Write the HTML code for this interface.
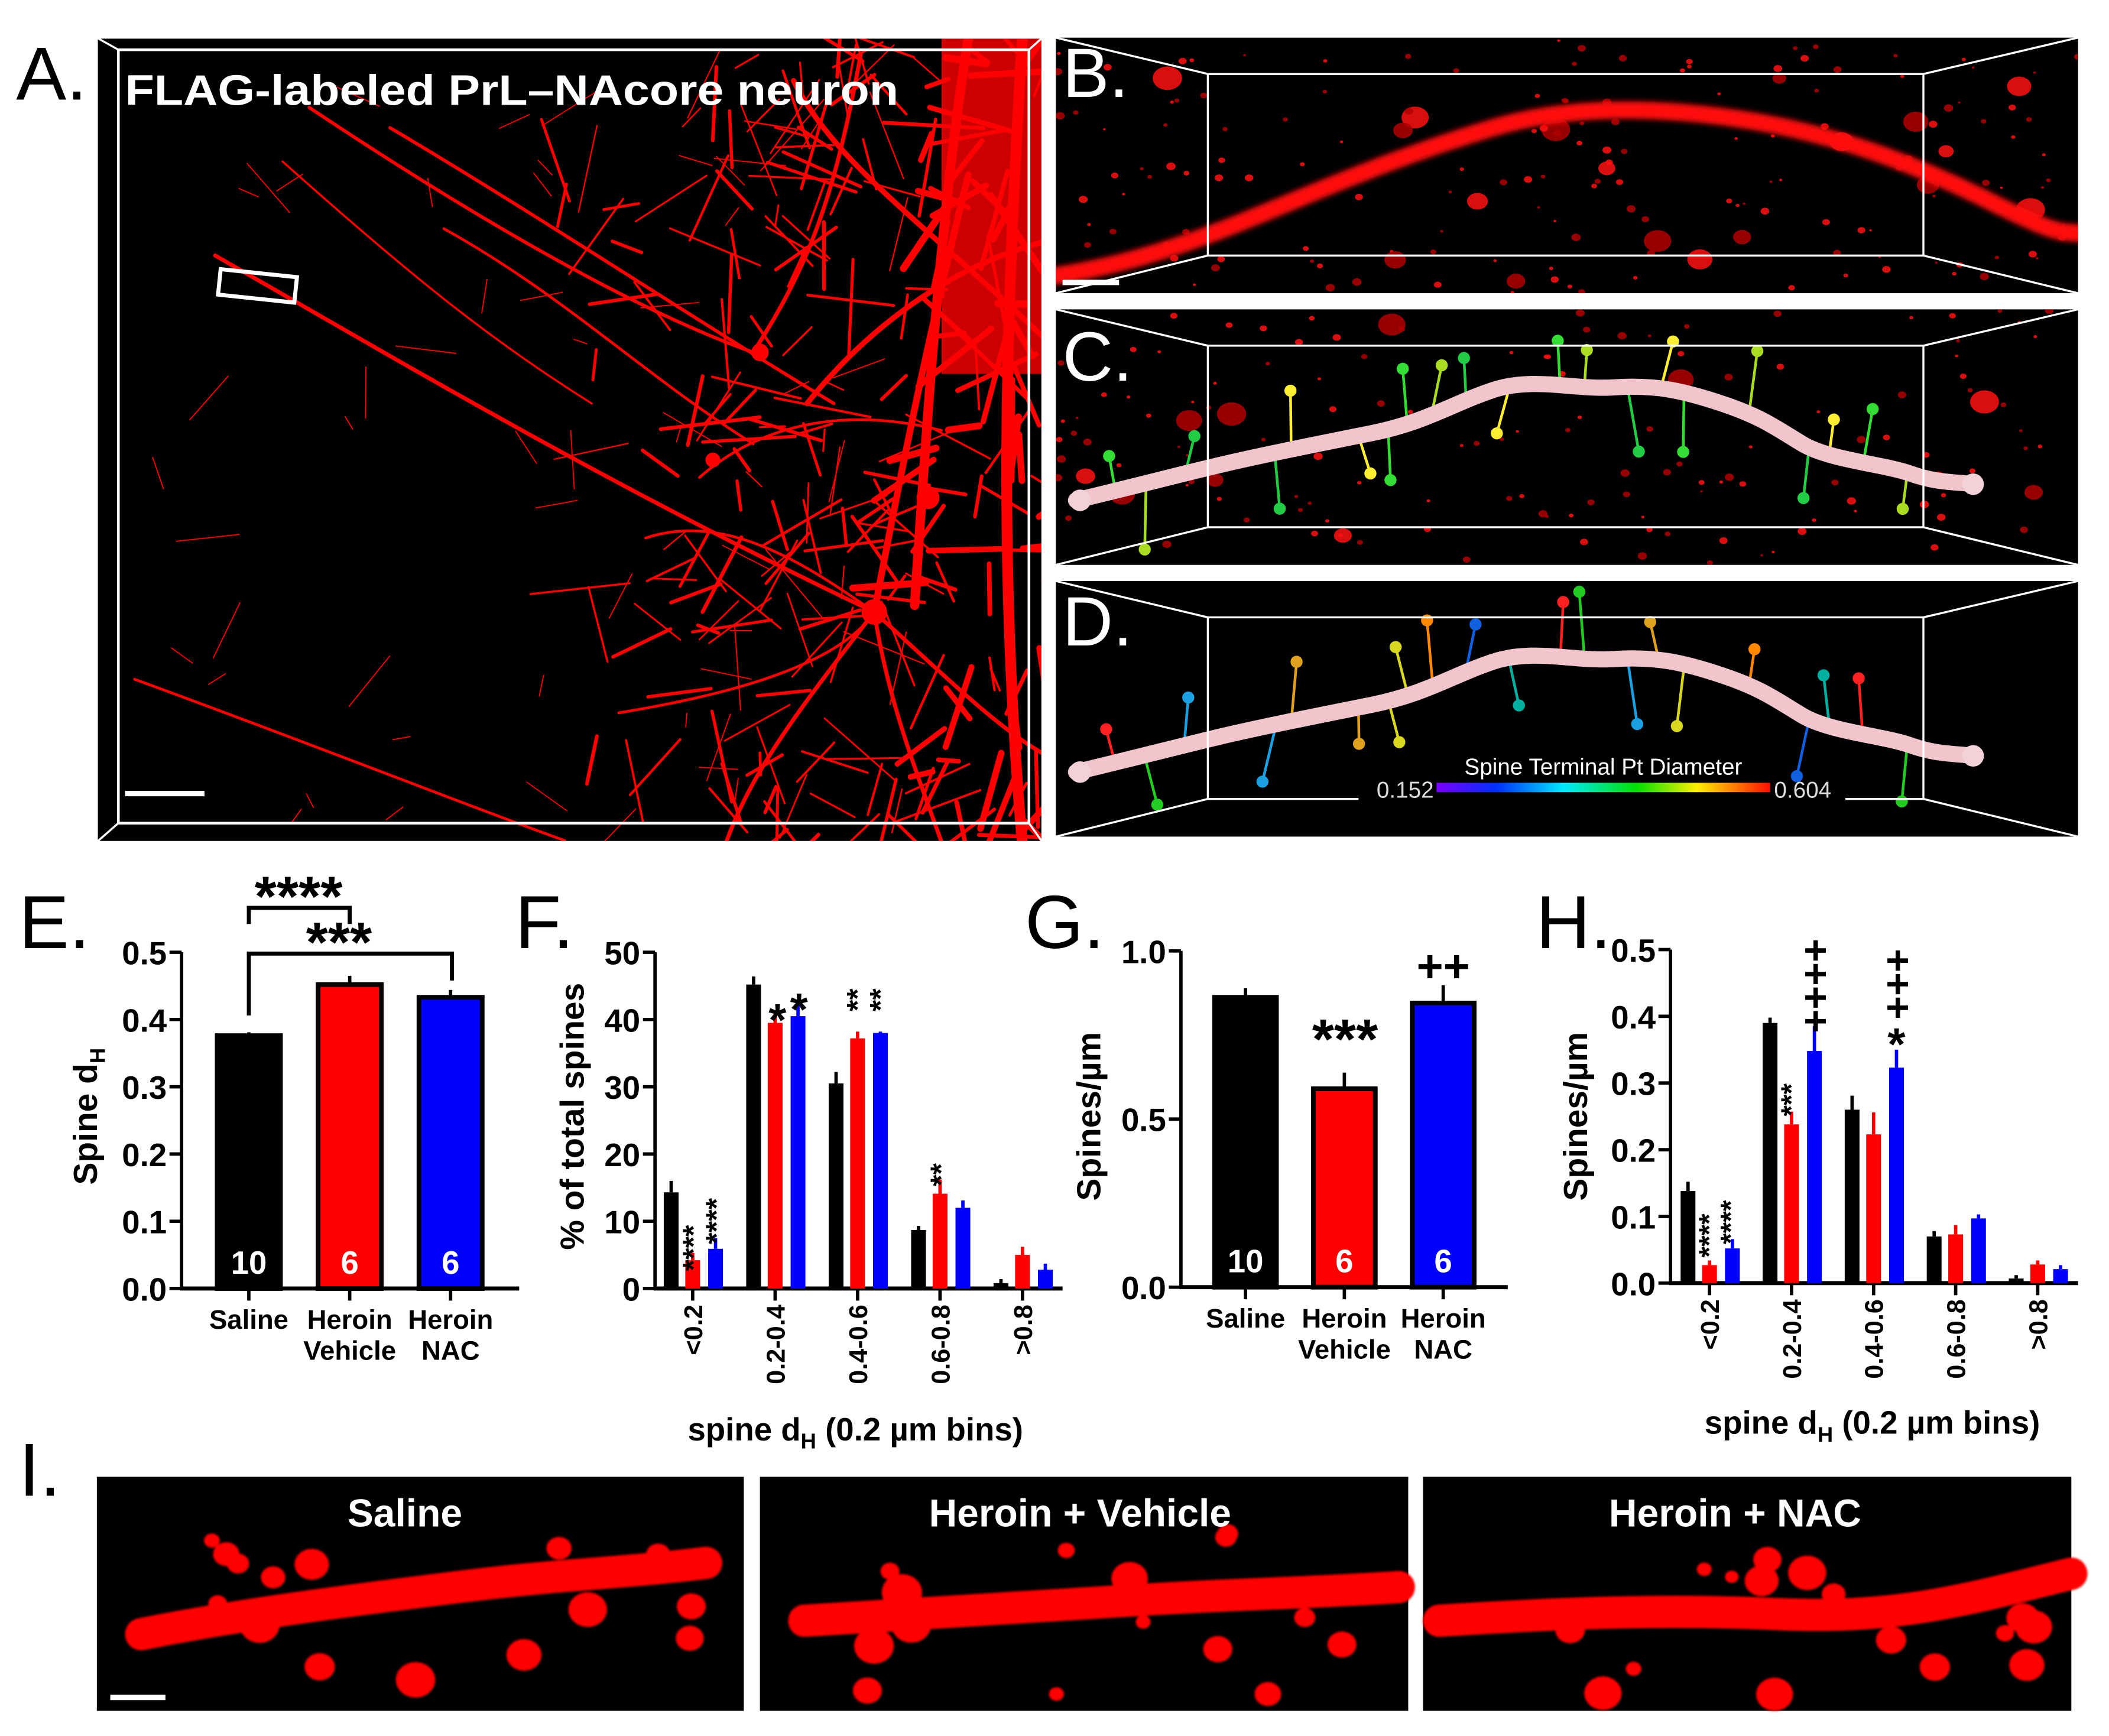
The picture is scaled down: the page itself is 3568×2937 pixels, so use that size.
<!DOCTYPE html>
<html><head><meta charset="utf-8">
<style>
html,body{margin:0;padding:0;background:#fff;}
svg{display:block;}
text{font-family:"Liberation Sans",Arial,sans-serif;}
.b{font-weight:bold;}
</style></head>
<body>
<svg id="fig" width="3568" height="2937" viewBox="0 0 1568 1290.7" xmlns="http://www.w3.org/2000/svg">
<defs>
 <filter id="blur2" x="-20%" y="-20%" width="140%" height="140%"><feGaussianBlur stdDeviation="2"/></filter>
 <filter id="blur1"><feGaussianBlur stdDeviation="0.8"/></filter>
 <linearGradient id="cbar" x1="0" x2="1" y1="0" y2="0">
  <stop offset="0" stop-color="#7a00ff"/><stop offset="0.18" stop-color="#0030ff"/><stop offset="0.38" stop-color="#00e8ff"/>
  <stop offset="0.6" stop-color="#00e000"/><stop offset="0.78" stop-color="#ffee00"/><stop offset="1" stop-color="#ff1000"/>
 </linearGradient>
 <clipPath id="clipA"><rect x="72" y="28" width="703" height="598"/></clipPath>
 <clipPath id="clipB"><rect x="785" y="28" width="760" height="190"/></clipPath>
 <clipPath id="clipC"><rect x="785" y="230" width="760" height="190"/></clipPath>
 <clipPath id="clipD"><rect x="785" y="432" width="760" height="190"/></clipPath>
</defs>

<!-- Panel A -->
<g>
 <rect x="72" y="28" width="703" height="598" fill="#000"/>
 <g id="neuronA" clip-path="url(#clipA)" stroke="#ff0000" fill="none" stroke-linecap="round"></g>
 <rect x="88" y="37" width="677" height="575" fill="none" stroke="#fff" stroke-width="2"/>
 <line x1="72" y1="28" x2="88" y2="37" stroke="#fff" stroke-width="1.5"/>
 <line x1="775" y1="28" x2="765" y2="37" stroke="#fff" stroke-width="1.5"/>
 <line x1="72" y1="626" x2="88" y2="612" stroke="#fff" stroke-width="1.5"/>
 <line x1="775" y1="626" x2="765" y2="612" stroke="#fff" stroke-width="1.5"/>
 <rect x="72" y="28" width="703" height="598" fill="none" stroke="#fff" stroke-width="1.5"/>
 <rect x="163" y="203" width="57" height="19" fill="none" stroke="#fff" stroke-width="3" transform="rotate(6 191 212)"/>
 <line x1="93" y1="590" x2="152" y2="590" stroke="#fff" stroke-width="4"/>
 <text x="93" y="78" class="b" font-size="32" fill="#fff" textLength="575" lengthAdjust="spacingAndGlyphs">FLAG-labeled PrL–NAcore neuron</text>
</g>
<text x="12" y="74" font-size="56" fill="#000">A.</text>

<!-- Panel B -->
<g>
 <rect x="785" y="28" width="760" height="190" fill="#000"/>
 <g clip-path="url(#clipB)" id="dotsB"></g>
 <path clip-path="url(#clipB)" filter="url(#blur2)" d="M785,205 C850,195 900,175 960,150 S1060,110 1110,95 S1220,78 1290,88 S1420,120 1480,150 S1530,170 1560,175" stroke="#ff1010" stroke-width="13" fill="none" stroke-linecap="round"/>
 <g stroke="#fff" stroke-width="1.5" fill="none">
  <rect x="898" y="55" width="532" height="135"/>
  <line x1="785" y1="28" x2="898" y2="55"/><line x1="1545" y1="28" x2="1430" y2="55"/>
  <line x1="785" y1="218" x2="898" y2="190"/><line x1="1545" y1="218" x2="1430" y2="190"/>
 </g>
 <line x1="790" y1="210" x2="832" y2="210" stroke="#fff" stroke-width="4"/>
</g>
<text x="790" y="72" font-size="52" fill="#fff">B.</text>

<!-- Panel C -->
<g>
 <rect x="785" y="230" width="760" height="190" fill="#000"/>
 <g clip-path="url(#clipC)" id="dotsC"></g>
 <g clip-path="url(#clipC)" id="spinesC"></g>
 <path id="dendC" d="M800,372 C850,360 880,352 910,345 S980,330 1020,322 S1080,300 1110,290 S1170,290 1200,288 S1250,290 1280,300 S1320,318 1340,330 S1400,345 1420,352 S1450,358 1468,360" stroke="#f2c4cc" stroke-width="12" fill="none" stroke-linecap="round"/>
 <circle cx="803" cy="372" r="8" fill="#f2d2d8"/><circle cx="1467" cy="360" r="8" fill="#f2d2d8"/>
 <g stroke="#fff" stroke-width="1.5" fill="none">
  <rect x="898" y="257" width="532" height="135"/>
  <line x1="785" y1="230" x2="898" y2="257"/><line x1="1545" y1="230" x2="1430" y2="257"/>
  <line x1="785" y1="420" x2="898" y2="392"/><line x1="1545" y1="420" x2="1430" y2="392"/>
 </g>
</g>
<text x="790" y="283" font-size="52" fill="#fff">C.</text>

<!-- Panel D -->
<g>
 <rect x="785" y="432" width="760" height="190" fill="#000"/>
 <g clip-path="url(#clipD)" id="spinesD"></g>
 <path d="M800,574 C850,562 880,554 910,547 S980,532 1020,524 S1080,502 1110,492 S1170,492 1200,490 S1250,492 1280,502 S1320,520 1340,532 S1400,547 1420,554 S1450,560 1468,562" stroke="#f2c4cc" stroke-width="12" fill="none" stroke-linecap="round"/>
 <circle cx="803" cy="574" r="8" fill="#f2d2d8"/><circle cx="1467" cy="562" r="8" fill="#f2d2d8"/>
 <g stroke="#fff" stroke-width="1.5" fill="none">
  <path d="M1010,594 H898 V459 H1430 V594 H1372"/>
  <line x1="785" y1="432" x2="898" y2="459"/><line x1="1545" y1="432" x2="1430" y2="459"/>
  <line x1="785" y1="622" x2="898" y2="594"/><line x1="1545" y1="622" x2="1430" y2="594"/>
 </g>
 <rect x="1068" y="582" width="248" height="7" fill="url(#cbar)"/>
 <text x="1192" y="576" font-size="17" fill="#fff" text-anchor="middle">Spine Terminal Pt Diameter</text>
 <text x="1066" y="593" font-size="17" fill="#ddd" text-anchor="end">0.152</text>
 <text x="1319" y="593" font-size="17" fill="#ddd">0.604</text>
</g>
<text x="790" y="480" font-size="52" fill="#fff">D.</text>

<!-- Chart panel labels -->
<text x="14" y="705" font-size="56">E.</text>
<text x="383" y="705" font-size="56">F.</text>
<text x="762" y="705" font-size="56">G.</text>
<text x="1142" y="705" font-size="56">H.</text>
<text x="14" y="1112" font-size="56">I.</text>

<g id="chartE"></g>
<g id="chartF"></g>
<g id="chartG"></g>
<g id="chartH"></g>

<!-- Panel I -->
<g>
 <rect x="72" y="1098" width="481" height="174" fill="#000"/>
 <rect x="565" y="1098" width="482" height="174" fill="#000"/>
 <rect x="1058" y="1098" width="482" height="174" fill="#000"/>
 <g id="dendI" filter="url(#blur1)"></g>
 <line x1="82" y1="1262" x2="123" y2="1262" stroke="#fff" stroke-width="4"/>
 <text x="301" y="1135" class="b" font-size="29" fill="#fff" text-anchor="middle">Saline</text>
 <text x="803" y="1135" class="b" font-size="29" fill="#fff" text-anchor="middle">Heroin + Vehicle</text>
 <text x="1290" y="1135" class="b" font-size="29" fill="#fff" text-anchor="middle">Heroin + NAC</text>
</g>

<script>
// ---------------- chart data ----------------
const groupsE = ["Saline", "Heroin|Vehicle", "Heroin|NAC"];
const valuesE = [0.376, 0.452, 0.433];
const errorsE = [0.005, 0.013, 0.011];
const nE = ["10", "6", "6"];
const ticksE = [0, 0.1, 0.2, 0.3, 0.4, 0.5];

const binsF = ["<0.2", "0.2-0.4", "0.4-0.6", "0.6-0.8", ">0.8"];
const salineF = [14.3, 45.2, 30.5, 8.7, 0.8];
const vehicleF = [4.2, 39.5, 37.2, 14.1, 5.0];
const nacF = [5.9, 40.5, 38.0, 12.0, 2.8];
const salineErrF = [1.5, 1.0, 1.5, 0.4, 0.4];
const vehicleErrF = [0.9, 1.4, 0.8, 1.9, 1.0];
const nacErrF = [1.4, 2.0, 0.0, 0.9, 0.7];
const ticksF = [0, 10, 20, 30, 40, 50];

const groupsG = ["Saline", "Heroin|Vehicle", "Heroin|NAC"];
const valuesG = [0.862, 0.590, 0.845];
const errorsG = [0.027, 0.048, 0.053];
const nG = ["10", "6", "6"];
const ticksG = [0, 0.5, 1.0];

const binsH = ["<0.2", "0.2-0.4", "0.4-0.6", "0.6-0.8", ">0.8"];
const salineH = [0.138, 0.390, 0.260, 0.070, 0.007];
const vehicleH = [0.027, 0.238, 0.223, 0.073, 0.028];
const nacH = [0.052, 0.348, 0.323, 0.097, 0.021];
const salineErrH = [0.012, 0.006, 0.019, 0.006, 0.003];
const vehicleErrH = [0.005, 0.017, 0.031, 0.012, 0.004];
const nacErrH = [0.012, 0.035, 0.025, 0.004, 0.004];
const ticksH = [0, 0.1, 0.2, 0.3, 0.4, 0.5];

const NS = "http://www.w3.org/2000/svg";
function mk(tag, attrs, parent) {
  const e = document.createElementNS(NS, tag);
  for (const k in attrs) e.setAttribute(k, attrs[k]);
  if (parent) parent.appendChild(e);
  return e;
}
const COLORS = ["#000000", "#ff0000", "#0000ff"];

function axisY(g, x, y0, y1, vmax, ticks, fmt, fs) {
  const sc = v => y0 - (v / vmax) * (y0 - y1);
  const ax = mk("line", {x1: x, y1: y0 + 1, x2: x, y2: y1, stroke: "#000", "stroke-width": 2.5}, g);
  
  
  ticks.forEach(t => {
    const tk = mk("line", {x1: x - 9, x2: x, y1: sc(t), y2: sc(t), stroke: "#000", "stroke-width": 2.5}, g);
    
    
    const tl = mk("text", {x: x - 11, y: sc(t) + 9, "font-size": 24, "text-anchor": "end", "class": "b"}, g);
    tl.textContent = fmt(t);
    
    
  });
  return sc;
}
function yTitle(g, x, y, txt, sub) {
  const t = mk("text", {x: x, y: y, "font-size": 25, "class": "b", "text-anchor": "middle", transform: "rotate(-90 " + x + " " + y + ")"}, g);
  t.textContent = txt;
  if (sub) { const s = mk("tspan", {"font-size": 16, dy: 6}, t); s.textContent = sub; }
  
  
}
function rotText(g, x, y, txt, fs, name) {
  const t = mk("text", {x: x, y: y, "font-size": fs, "class": "b", transform: "rotate(-90 " + x + " " + y + ")"}, g);
  t.textContent = txt;
  
  
  return t;
}
function txt(g, x, y, s, fs, anchor, fill, name) {
  const t = mk("text", {x: x, y: y, "font-size": fs, "class": "b", "text-anchor": anchor || "middle", fill: fill || "#000"}, g);
  t.textContent = s;
  
  
  return t;
}

// ---- three-bar charts (E, G) ----
function threeBar(g, o) {
  const sc = axisY(g, o.ax, o.y0, o.y1, o.vmax, o.ticks, o.fmt);
  const xa = mk("line", {x1: o.ax - 1, x2: o.axEnd, y1: o.y0, y2: o.y0, stroke: "#000", "stroke-width": 3}, g);
  
  
  o.values.forEach((v, i) => {
    const cx = o.x0 + i * o.step;
    const top = sc(v), w = o.bw;
    const eb = mk("line", {x1: cx, x2: cx, y1: top, y2: sc(v + o.errors[i]), stroke: "#000", "stroke-width": 2.5}, g);
    
    
    const r = mk("rect", {x: cx - w / 2, y: top, width: w, height: o.y0 - top, fill: COLORS[i], stroke: "#000", "stroke-width": 3.5}, g);
    
    
    txt(g, cx, o.y0 - 11, o.ns[i], 24, "middle", "#fff", 'n-label');
    const tk = mk("line", {x1: cx, x2: cx, y1: o.y0, y2: o.y0 + 9, stroke: "#000", "stroke-width": 2.5}, g);
    
    
    const parts = o.groups[i].split('|');
    parts.forEach((p, j) => txt(g, cx, o.y0 + 30 + j * 23, p, 20, "middle", "#000", 'x-tick-label'));
  });
  return sc;
}

const gE = document.getElementById("chartE");
const scE = threeBar(gE, {ax: 135, y0: 958, y1: 708, vmax: 0.5, ticks: ticksE, fmt: t => t.toFixed(1),
  axEnd: 386, x0: 185, step: 75, bw: 47, values: valuesE, errors: errorsE, groups: groupsE, ns: nE});
yTitle(gE, 72, 830, "Spine d", "H");
(function () {
  const b1 = mk("path", {d: "M185,687 V675 H260 V687", fill: "none", stroke: "#000", "stroke-width": 3}, gE);
  
  
  txt(gE, 222, 681, "****", 42, "middle", "#000", 'significance-stars');
  const b2 = mk("path", {d: "M185,755 V709 H336 V729", fill: "none", stroke: "#000", "stroke-width": 3}, gE);
  
  
  txt(gE, 252, 715, "***", 42, "middle", "#000", 'significance-stars');
})();

const gG = document.getElementById("chartG");
const scG = threeBar(gG, {ax: 878, y0: 957, y1: 707, vmax: 1.0, ticks: ticksG, fmt: t => t.toFixed(1),
  axEnd: 1121, x0: 926, step: 73.5, bw: 46, values: valuesG, errors: errorsG, groups: groupsG, ns: nG});
yTitle(gG, 818, 830, "Spines/µm");
txt(gG, 1000, 787, "***", 42, "middle", "#000", 'significance-stars');
txt(gG, 1073, 730, "++", 34, "middle", "#000", 'significance-plus');

// ---- grouped charts (F, H) ----
function grouped(g, o) {
  const sc = axisY(g, o.ax, o.y0, o.y1, o.vmax, o.ticks, o.fmt);
  const xa = mk("line", {x1: o.ax - 1, x2: o.axEnd, y1: o.y0, y2: o.y0, stroke: "#000", "stroke-width": 3}, g);
  
  
  const offs = [-16, 0, 17];
  const names = ["saline", "heroin-vehicle", "heroin-nac"];
  o.bins.forEach((b, i) => {
    const cx = o.x0 + i * o.step;
    o.series.forEach((s, k) => {
      const v = s[i], bx = cx + offs[k];
      const eb = mk("line", {x1: bx, x2: bx, y1: sc(v), y2: sc(v + o.errs[k][i]) - 1, stroke: COLORS[k], "stroke-width": 2.5}, g);
      
      
      const r = mk("rect", {x: bx - 5.5, y: sc(v), width: 11, height: o.y0 - sc(v), fill: COLORS[k]}, g);
      
      
    });
    const tk = mk("line", {x1: cx, x2: cx, y1: o.y0, y2: o.y0 + 9, stroke: "#000", "stroke-width": 2.5}, g);
    
    
    const t = mk("text", {x: cx + 7, y: o.y0 + 12, "font-size": 19, "class": "b", "text-anchor": "end", transform: "rotate(-90 " + (cx + 7) + " " + (o.y0 + 12) + ")"}, g);
    t.textContent = b;
    
    
  });
  const xt = mk("text", {x: o.titleX, y: o.titleY, "font-size": 24, "class": "b", "text-anchor": "middle"}, g);
  xt.textContent = "spine d";
  const sb = mk("tspan", {"font-size": 16, dy: 6}, xt); sb.textContent = "H";
  const rs = mk("tspan", {dy: -6}, xt); rs.textContent = " (0.2 µm bins)";
  
  
  return sc;
}

const gF = document.getElementById("chartF");
const scF = grouped(gF, {ax: 487, y0: 958, y1: 708, vmax: 50, ticks: ticksF, fmt: t => String(t),
  axEnd: 790, x0: 515, step: 61.3, bins: binsF, series: [salineF, vehicleF, nacF],
  errs: [salineErrF, vehicleErrF, nacErrF], titleX: 636, titleY: 1071});
yTitle(gF, 434, 830, "% of total spines");
rotText(gF, 523, 945, "****", 22, 'significance-stars');
rotText(gF, 540, 925, "****", 22, 'significance-stars');
txt(gF, 578, 770, "*", 34, "middle", "#000", 'significance-stars');
txt(gF, 594, 762, "*", 34, "middle", "#000", 'significance-stars');
rotText(gF, 645, 752, "**", 22, 'significance-stars');
rotText(gF, 662, 752, "**", 22, 'significance-stars');
rotText(gF, 707, 882, "**", 22, 'significance-stars');

const gH = document.getElementById("chartH");
const scH = grouped(gH, {ax: 1242, y0: 954, y1: 706, vmax: 0.5, ticks: ticksH, fmt: t => t.toFixed(1),
  axEnd: 1545, x0: 1271, step: 61, bins: binsH, series: [salineH, vehicleH, nacH],
  errs: [salineErrH, vehicleErrH, nacErrH], titleX: 1392, titleY: 1066});
yTitle(gH, 1180, 830, "Spines/µm");
rotText(gH, 1278, 935, "****", 21, 'significance-stars');
rotText(gH, 1294, 925, "****", 21, 'significance-stars');
rotText(gH, 1339, 830, "***", 21, 'significance-stars');
rotText(gH, 1360, 768, "++++", 30, 'significance-plus');
txt(gH, 1410, 788, "*", 34, "middle", "#000", 'significance-stars');
rotText(gH, 1421, 758, "+++", 30, 'significance-plus');

// ---------------- decorative microscopy ----------------
let seed = 12345;
function rnd() { seed = (seed * 1103515245 + 12345) % 2147483648; return seed / 2147483648; }
const nA = document.getElementById("neuronA");
const mainPaths = [
 ["M160,190 C300,270 450,360 650,455", 3],
 ["M230,80 C350,160 470,230 560,262", 2.5],
 ["M290,95 C400,160 520,240 620,300", 2.5],
 ["M330,170 C420,220 480,280 560,330", 2],
 ["M210,120 C300,200 360,250 440,300", 1.5],
 ["M100,505 C250,560 350,600 420,625", 2],
 ["M650,455 C600,520 560,570 540,626", 3],
 ["M650,455 C660,520 680,570 700,626", 3],
 ["M650,455 C700,500 740,540 775,560", 3],
 ["M650,455 C620,500 520,520 460,530", 2],
 ["M650,455 C670,350 690,250 720,130", 5],
 ["M720,28 C700,150 690,300 680,450", 7],
 ["M760,28 C750,200 740,400 760,626", 8],
 ["M600,300 C640,250 700,200 775,180", 4],
 ["M560,262 C600,200 620,150 640,40", 3],
 ["M590,60 C620,120 680,160 775,250", 4],
 ["M520,355 C560,320 620,300 700,320", 2],
 ["M480,400 C540,380 600,420 650,455", 2]
];
mainPaths.forEach(p => mk("path", {d: p[0], "stroke-width": p[1]}, nA));
for (let i = 0; i < 260; i++) {
  const x = 520 + rnd() * 260 + (rnd() < 0.3 ? -100 : 0);
  const y = 30 + rnd() * 600;
  const a = rnd() * Math.PI * 2, l = 15 + rnd() * 60;
  const w = x > 680 ? 1.5 + rnd() * 4 : 0.8 + rnd() * 2;
  mk("line", {x1: x, y1: y, x2: x + Math.cos(a) * l, y2: y + Math.sin(a) * l, "stroke-width": w}, nA);
}
for (let i = 0; i < 40; i++) {
  const x = 100 + rnd() * 450, y = 60 + rnd() * 560;
  const a = rnd() * Math.PI, l = 10 + rnd() * 40;
  mk("line", {x1: x, y1: y, x2: x + Math.cos(a) * l, y2: y + Math.sin(a) * l, "stroke-width": 0.8}, nA);
}
mk("rect", {x: 700, y: 28, width: 75, height: 250, fill: "#ff0000", stroke: "none", opacity: 0.8}, nA);
mk("circle", {cx: 650, cy: 455, r: 9, fill: "#ff0000"}, nA);
mk("circle", {cx: 565, cy: 262, r: 6, fill: "#ff0000"}, nA);
mk("circle", {cx: 530, cy: 342, r: 5, fill: "#ff0000"}, nA);
mk("circle", {cx: 690, cy: 370, r: 8, fill: "#ff0000"}, nA);

function dots(id, y0, n) {
  const g = document.getElementById(id);
  for (let i = 0; i < n; i++) {
    const r = rnd() < 0.1 ? 5 + rnd() * 6 : 1 + rnd() * 2.5;
    mk("ellipse", {cx: 785 + rnd() * 760, cy: y0 + rnd() * 190, rx: r, ry: r * 0.8, fill: rnd() < 0.5 ? "#b00000" : "#ff1010", opacity: 0.85}, g);
  }
}
dots("dotsB", 28, 170);
dots("dotsC", 230, 140);

function spines(id, yoff, colors) {
  const g = document.getElementById(id);
  const base = [[830,369,-1],[852,364,1],[880,357,-1],[1010,324,1],[1046,312,-1],[1065,305,-1],[1090,296,-1],[1122,289,1],[1160,289,-1],[1178,287,-1],[1210,288,1],[1234,292,-1],[1252,294,1],[1300,310,-1],[1345,333,1],[1360,337,-1],[1385,346,-1],[1418,352,1],[948,340,1],[960,335,-1],[1032,318,1]];
  base.forEach((b, i) => {
    const len = 25 + rnd() * 25, dx = (rnd() - 0.5) * 20;
    const x2 = b[0] + dx, y2 = b[1] + yoff + b[2] * len;
    const c = colors[i % colors.length];
    mk("line", {x1: b[0], y1: b[1] + yoff, x2: x2, y2: y2, stroke: c, "stroke-width": 2}, g);
    mk("circle", {cx: x2, cy: y2, r: 4.5, fill: c}, g);
  });
}
spines("spinesC", 0, ["#33dd33", "#aadd22", "#22cc44", "#ffee33"]);
spines("spinesD", 202, ["#ff2020", "#22cc22", "#1aa0e0", "#e0a020", "#d8d820", "#ff8800", "#1060e0", "#00b0a0"]);

const gI = document.getElementById("dendI");
[[72, "M105,1215 C180,1200 260,1190 340,1180 S460,1170 525,1162"],
 [565, "M598,1205 C680,1200 760,1195 840,1190 S960,1185 1040,1180"],
 [1058, "M1070,1205 C1150,1200 1230,1196 1320,1200 S1460,1190 1540,1170"]].forEach(p => {
  mk("path", {d: p[1], stroke: "#ff0000", "stroke-width": 24, fill: "none", "stroke-linecap": "round"}, gI);
  for (let i = 0; i < 16; i++) {
    const x = p[0] + 40 + rnd() * 420, y = 1140 + rnd() * 120;
    const r = 5 + rnd() * 10;
    mk("ellipse", {cx: x, cy: y, rx: r, ry: r * 0.9, fill: "#ff0000"}, gI);
  }
});
</script>
</svg>
</body></html>
